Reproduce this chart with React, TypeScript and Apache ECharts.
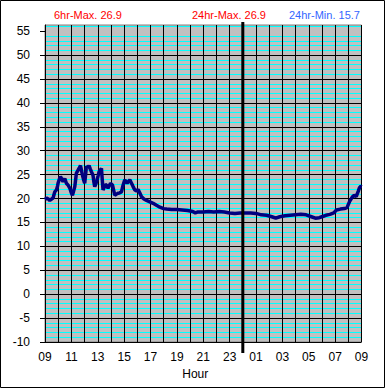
import React, { useEffect, useRef } from "react";
import * as echarts from "echarts";

// Hours elapsed since 09:00
const hours = [
  0.0, 0.12, 0.25, 0.36, 0.5, 0.61, 0.68, 0.74, 0.87, 0.95, 0.99, 1.08, 1.17, 1.27, 1.37, 1.5, 1.62, 1.75, 1.88,
  1.98, 2.08, 2.17, 2.26, 2.38, 2.48, 2.58, 2.69, 2.76, 2.84, 2.92, 3.01, 3.08, 3.14, 3.25, 3.34, 3.43, 3.52,
  3.64, 3.7, 3.77, 3.86, 3.95, 4.03, 4.1, 4.2, 4.28, 4.34, 4.4, 4.5, 4.58, 4.66, 4.78, 4.88, 4.97, 5.05, 5.12,
  5.2, 5.29, 5.4, 5.54, 5.67, 5.8, 5.92, 6.05, 6.15, 6.23, 6.33, 6.43, 6.56, 6.68, 6.81, 6.95, 7.06, 7.2, 7.32,
  7.5, 7.7, 7.95, 8.2, 8.45, 8.71, 9.0, 9.22, 9.6, 10.0, 10.4, 10.8, 11.2, 11.4, 11.6, 12.0, 12.4, 12.8, 13.2,
  13.6, 14.0, 14.4, 14.8, 15.2, 15.6, 16.0, 16.4, 16.8, 17.2, 17.5, 17.8, 18.2, 18.6, 19.0, 19.4, 19.8, 20.2,
  20.5, 20.8, 21.0, 21.3, 21.6, 21.9, 22.1, 22.4, 22.7, 22.9, 23.1, 23.3, 23.45, 23.6, 23.75, 23.85, 23.95, 24.0,
];
const temps = [
  19.8, 20.1, 19.9, 19.6, 19.9, 20.1, 20.8, 21.4, 21.8, 22.6, 23.2, 24.0, 24.6, 24.1, 23.5, 24.2, 23.2, 22.8, 22.2,
  21.3, 20.7, 21.6, 22.5, 25.3, 25.8, 26.3, 26.9, 26.0, 24.9, 24.0, 23.2, 25.0, 26.7, 26.5, 26.9, 26.2, 25.6,
  24.9, 23.6, 22.5, 23.1, 23.9, 24.8, 25.6, 26.0, 26.3, 24.0, 21.8, 22.4, 22.9, 22.8, 22.2, 22.7, 23.2, 23.0, 22.8,
  21.8, 20.7, 20.9, 21.1, 21.2, 21.4, 22.8, 23.9, 23.5, 23.2, 23.6, 23.9, 23.2, 22.5, 21.8, 21.6, 21.9, 21.1, 20.4,
  19.9, 19.6, 19.3, 19.0, 18.6, 18.2, 17.9, 17.8, 17.7, 17.7, 17.6, 17.5, 17.3, 17.0, 17.2, 17.2, 17.3, 17.2, 17.3,
  17.2, 17.0, 16.9, 17.0, 17.0, 17.0, 16.9, 16.6, 16.5, 16.2, 15.9, 16.2, 16.4, 16.5, 16.6, 16.7, 16.6, 16.2,
  15.9, 16.0, 16.2, 16.5, 16.7, 17.0, 17.6, 17.8, 17.9, 18.1, 19.4, 20.3, 20.7, 20.4, 21.5, 22.3, 22.6, 22.5,
];

const startHour = 9;
const midnightHour = 15;
const yMin = -10;
const yMax = 56.3;
const yMajorTicks = [-10, -5, 0, 5, 10, 15, 20, 25, 30, 35, 40, 45, 50, 55];
const statLabels = ["6hr-Max.", "24hr-Max.", "24hr-Min."];
const statValues = [26.9, 26.9, 15.7];

const FONT = "'Liberation Sans', Arial, sans-serif";

export default function App() {
  const ref = useRef<HTMLDivElement>(null);

  useEffect(() => {
    document.body.style.margin = "0";
    if (!ref.current) return;
    const chart = echarts.init(ref.current, null, { renderer: "svg" });
    const statColors = ["#FF0000", "#FF0000", "#3366FF"];
    const statLeft = [54, 192, 289];
    const option: any = {
      animation: false,
      backgroundColor: "#FFFFFF",
      title: statLabels.map((l, i) => ({
        text: `${l} ${statValues[i].toFixed(1)}`,
        left: statLeft[i],
        top: 9,
        padding: 0,
        textStyle: { color: statColors[i], fontSize: 11, fontWeight: "normal", fontFamily: FONT },
      })),
      grid: {
        left: 45,
        right: 23.5,
        top: 25,
        bottom: 46,
        show: true,
        backgroundColor: "#C0C0C0",
        borderColor: "#808080",
        borderWidth: 1,
      },
      xAxis: {
        type: "value",
        min: 0,
        max: 24,
        interval: 2,
        z: 3,
        name: "Hour",
        nameLocation: "middle",
        nameGap: 25,
        nameTextStyle: { fontSize: 12, color: "#000", fontFamily: FONT, padding: [0, 16, 0, 0] },
        axisLine: { show: true, lineStyle: { color: "#000", width: 1 } },
        axisTick: { show: true, length: 4, lineStyle: { color: "#000" } },
        axisLabel: {
          margin: 9,
          fontSize: 12,
          color: "#000",
          fontFamily: FONT,
          formatter: (v: number) => String((startHour + Math.round(v)) % 24).padStart(2, "0"),
        },
        splitLine: { show: true, lineStyle: { color: "#000", width: 1 } },
        minorTick: { show: false, splitNumber: 2 },
        minorSplitLine: { show: true, lineStyle: { color: "#000", width: 1 } },
      },
      yAxis: [
        {
          type: "value",
          min: yMin,
          max: yMax,
          interval: 5,
          position: "left",
          z: 2,
          axisLine: { show: true, lineStyle: { color: "#000", width: 1 } },
          axisTick: { show: true, length: 5, customValues: yMajorTicks, lineStyle: { color: "#000" } },
          axisLabel: {
            margin: 15,
            fontSize: 12,
            color: "#000",
            fontFamily: FONT,
            customValues: yMajorTicks,
            formatter: (v: number) => (yMajorTicks.includes(Math.round(v * 100) / 100) ? String(v) : ""),
          },
          splitLine: { show: true, showMaxLine: false, lineStyle: { color: "#000", width: 1 } },
        },
        {
          type: "value",
          min: yMin,
          max: yMax,
          interval: 1,
          position: "left",
          z: 1,
          axisLine: { show: false },
          axisTick: { show: false },
          axisLabel: { show: false },
          splitLine: {
            show: true,
            showMaxLine: false,
            lineStyle: {
              color: ["rgba(0,0,0,0)", "#00FFFF", "#00FFFF", "#00FFFF", "#00FFFF"],
              width: 1,
            },
          },
        },
      ],
      series: [
        {
          type: "line",
          yAxisIndex: 0,
          data: hours.map((h, i) => [h, temps[i]]),
          showSymbol: false,
          symbol: "none",
          lineStyle: { color: "#000080", width: 3.5 },
          z: 5,
        },
      ],
    };
    chart.setOption(option);

    const px = chart.convertToPixel({ xAxisIndex: 0 }, midnightHour) as number;
    const top = chart.convertToPixel({ yAxisIndex: 0 }, yMax) as number;
    const bot = chart.convertToPixel({ yAxisIndex: 0 }, yMin) as number;
    chart.setOption({
      graphic: [
        {
          type: "line",
          shape: { x1: px, y1: top - 3, x2: px, y2: bot + 11 },
          style: { stroke: "#000", lineWidth: 3 },
          z: 10,
        },
        {
          type: "rect",
          shape: { x: 0.5, y: 0.5, width: 384, height: 387 },
          style: { fill: "none", stroke: "#000", lineWidth: 1 },
          z: 10,
        },
      ],
    });

    return () => chart.dispose();
  }, []);

  return <div ref={ref} style={{ width: 385, height: 388 }} />;
}
